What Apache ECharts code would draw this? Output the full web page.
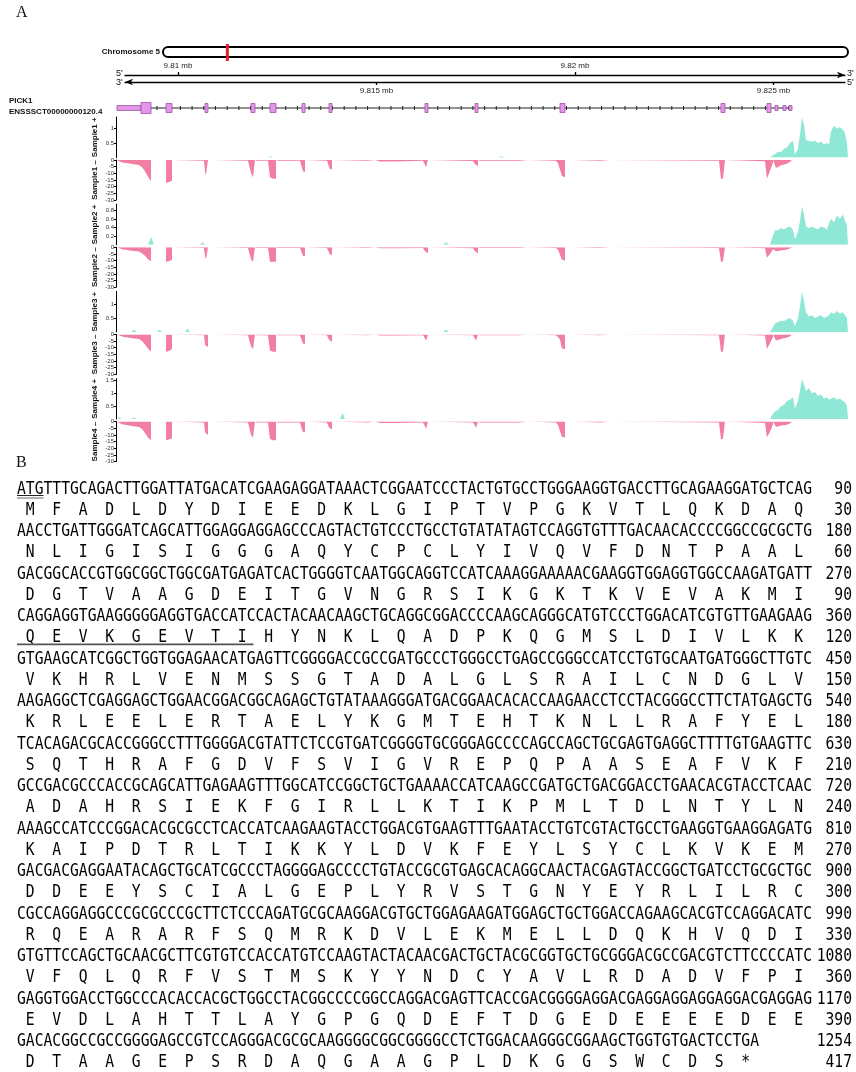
<!DOCTYPE html>
<html><head><meta charset="utf-8">
<script src="https://cdn.jsdelivr.net/npm/echarts@6/dist/echarts.min.js"></script>
<style>html,body{margin:0;padding:0;background:#fff}#c{width:856px;height:1072px}</style>
</head><body><div id="c"></div>
<script>
// ---------------- DATA ----------------
const chrName = 'Chromosome 5';
const chrLengthMb = 104.5;
const locusMb = 9.818;
const geneName = 'PICK1';
const transcriptId = 'ENSSSCT00000000120.4';
const viewKb = [9808.438, 9826.877];
const scaleTopTicksKb = [9810, 9820];
const scaleBottomTicksKb = [9815, 9825];
// [start kb, end kb, kind] kind: 2 = large exon, 1 = exon, 0 = UTR
const exonsKb = [
  [9808.463, 9809.068, 0], [9809.068, 9809.320, 2], [9809.697, 9809.849, 1],
  [9810.680, 9810.755, 1], [9811.839, 9811.939, 1], [9812.317, 9812.468, 1],
  [9813.123, 9813.199, 1], [9813.803, 9813.879, 1], [9816.221, 9816.297, 1],
  [9817.481, 9817.556, 1], [9819.622, 9819.748, 1], [9823.677, 9823.778, 1],
  [9824.836, 9824.937, 1], [9825.037, 9825.113, 0], [9825.239, 9825.315, 0],
  [9825.390, 9825.466, 0]
];
const sampleNames = ['Sample1', 'Sample2', 'Sample3', 'Sample4'];
const plusMax = [1.4, 0.94, 1.45, 1.57];
const plusInterval = [0.5, 0.2, 0.5, 0.5];
const minusTicks = [0, -30, 5];

// minus-strand coverage (positions in kb)
const minusPosKb = [
  9808.463, 9808.463, 9808.589, 9808.740, 9808.891, 9809.017, 9809.093, 9809.168, 9809.244, 9809.320,
  9809.320, 9809.697, 9809.697, 9809.773, 9809.849, 9809.849, 9809.874, 9810.655, 9810.680, 9810.705,
  9810.755, 9810.755, 9810.881, 9810.881, 9811.763, 9811.839, 9811.889, 9811.939, 9811.939, 9811.990,
  9812.267, 9812.317, 9812.393, 9812.468, 9812.468, 9812.519, 9813.073, 9813.123, 9813.148, 9813.199,
  9813.199, 9813.249, 9813.753, 9813.803, 9813.828, 9813.879, 9813.879, 9813.929, 9814.786, 9814.786,
  9814.962, 9814.962, 9815.088, 9815.466, 9816.171, 9816.221, 9816.247, 9816.297, 9816.297, 9816.347,
  9817.430, 9817.481, 9817.506, 9817.556, 9817.556, 9817.607, 9818.614, 9818.614, 9818.816, 9818.816,
  9819.521, 9819.572, 9819.622, 9819.672, 9819.748, 9819.748, 9819.924, 9819.924, 9820.629, 9820.629,
  9820.881, 9820.881, 9823.627, 9823.677, 9823.728, 9823.778, 9823.778, 9823.828, 9824.786, 9824.836,
  9824.937, 9824.987, 9824.987, 9825.037, 9825.063, 9825.189, 9825.315, 9825.415, 9825.466
];
const s1Minus = [
  0, -1.0, -1.8, -2.5, -3.2, -3.8, -5.5, -8.5, -12.5, -16,
  0, 0, -17, -16.5, -15.5, 0, -0.6, -0.6, -9, -11,
  -11.5, 0, 0, -0.6, -0.6, -10, -13, -14, 0, -0.6,
  -0.6, -13, -14, -14, 0, -0.6, -0.6, -6, -8.5, -9,
  0, -0.6, -0.6, -5, -7, -7, 0, -0.6, -0.6, 0,
  0, -0.6, -1.2, -1.2, -0.6, -3.5, -5.5, -5.5, 0, -0.7,
  -0.7, -3, -4.5, -4.5, 0, -0.6, -0.6, 0, 0, -0.6,
  -0.6, -2.5, -4, -12, -13, 0, 0, -0.6, -0.6, 0,
  0, -0.6, -0.6, -14, -14, -14, 0, -0.6, -1, -14,
  -6, -2, 0, 0, -6, -4, -3, -1.5, 0
];
const s2Minus = [
  0, -0.8, -1.5, -2.2, -2.8, -3.2, -4.5, -6.5, -9, -10.5,
  0, 0, -11, -10.5, -9.5, 0, -0.6, -0.6, -7, -9,
  -9, 0, 0, -0.6, -0.6, -9, -11, -12, 0, -0.6,
  -0.6, -11, -11, -11, 0, -0.6, -0.6, -4.5, -6.5, -6.7,
  0, -0.6, -0.6, -4, -5.7, -5.7, 0, -0.6, -0.6, 0,
  0, -0.6, -0.8, -0.8, -0.6, -3, -4.5, -4.5, 0, -0.7,
  -0.7, -3, -4.5, -4.5, 0, -0.6, -0.6, 0, 0, -0.6,
  -0.6, -2, -3.5, -9.5, -10, 0, 0, -0.6, -0.6, 0,
  0, -0.6, -0.6, -11, -11, -11, 0, -0.6, -0.8, -8,
  -4, -1.5, 0, 0, -3, -2.5, -2, -1, 0
];
const s3Minus = [
  0, -1.0, -1.6, -2.3, -3.0, -3.5, -5, -7.5, -10.5, -13,
  0, 0, -13, -12.5, -11, 0, -0.6, -0.6, -8, -9,
  -9.5, 0, 0, -0.6, -0.6, -9, -11, -12, 0, -0.6,
  -0.6, -12, -13, -13, 0, -0.6, -0.6, -5, -7, -7,
  0, -0.6, -0.6, -4, -5.5, -5.5, 0, -0.6, -0.6, 0,
  0, -0.6, -0.8, -0.8, -0.6, -3, -5, -5, 0, -0.7,
  -0.7, -3, -5, -5, 0, -0.6, -0.6, 0, 0, -0.6,
  -0.6, -2, -4, -10.5, -11, 0, 0, -0.6, -0.6, 0,
  0, -0.6, -0.6, -13, -13, -13, 0, -0.6, -0.8, -11,
  -5, -2, 0, 0, -4.5, -3.5, -2.5, -1.5, 0
];
const s4Minus = [
  0, -1.2, -2.0, -2.8, -3.4, -4.0, -5.5, -8.5, -12, -14,
  0, 0, -14, -13.5, -12.5, 0, -0.6, -0.6, -8, -9.5,
  -10, 0, 0, -0.6, -0.6, -10, -12, -13, 0, -0.6,
  -0.6, -13, -14, -14, 0, -0.6, -0.6, -6, -8, -8,
  0, -0.6, -0.6, -4.5, -6, -6, 0, -0.6, -0.6, 0,
  0, -0.6, -1.0, -1.0, -0.6, -3.5, -5.5, -5.5, 0, -0.7,
  -0.7, -3, -5, -5, 0, -0.6, -0.6, 0, 0, -0.6,
  -0.6, -2.5, -4, -11.5, -12, 0, 0, -0.6, -0.6, 0,
  0, -0.6, -0.6, -13, -13, -13, 0, -0.6, -1, -12,
  -6, -2, 0, 0, -4, -3, -2.5, -1.5, 0
];

// plus-strand coverage (positions in kb)
const plusPosKb = [
  9808.488, 9808.526, 9808.564, 9808.816, 9808.891, 9808.967, 9809.244, 9809.320, 9809.395,
  9809.471, 9809.534, 9809.597, 9810.176, 9810.239, 9810.302, 9810.554, 9810.617, 9810.680,
  9812.267, 9812.330, 9812.393, 9814.080, 9814.143, 9814.206, 9816.675, 9816.750, 9816.826,
  9818.060, 9818.148, 9818.236,
  9824.912, 9824.962, 9825.037, 9825.113, 9825.189, 9825.264, 9825.340, 9825.415, 9825.491,
  9825.541, 9825.617, 9825.667, 9825.718, 9825.768, 9825.818, 9825.894, 9825.969, 9826.045,
  9826.121, 9826.196, 9826.272, 9826.347, 9826.398, 9826.448, 9826.524, 9826.599, 9826.675,
  9826.750, 9826.801, 9826.851, 9826.876
];
const s1Plus = [
  0, 0.06, 0, 0, 0, 0, 0, 0, 0, 0, 0, 0, 0, 0, 0, 0, 0, 0,
  0, 0.05, 0, 0, 0, 0, 0, 0, 0, 0, 0.04, 0,
  0, 0.05, 0.12, 0.2, 0.18, 0.3, 0.35, 0.5, 0.58, 0.1, 0.3, 0.8, 1.38, 1.15, 0.6, 0.58,
  0.55, 0.58, 0.5, 0.55, 0.45, 0.5, 0.45, 0.9, 1.1, 1.0, 1.05, 0.95, 0.85, 0.5, 0
];
const s2Plus = [
  0, 0.04, 0, 0, 0, 0, 0, 0.18, 0, 0, 0, 0, 0, 0, 0, 0, 0.06, 0,
  0, 0, 0, 0, 0, 0, 0, 0.06, 0, 0, 0, 0,
  0, 0.15, 0.33, 0.34, 0.38, 0.36, 0.4, 0.42, 0.35, 0.12, 0.3, 0.55, 0.89, 0.7, 0.42, 0.38,
  0.42, 0.38, 0.36, 0.42, 0.4, 0.36, 0.5, 0.6, 0.52, 0.68, 0.6, 0.7, 0.55, 0.45, 0
];
const s3Plus = [
  0, 0, 0, 0, 0.08, 0, 0, 0, 0, 0, 0.08, 0, 0, 0.12, 0, 0, 0, 0,
  0, 0, 0, 0, 0, 0, 0, 0.08, 0, 0, 0, 0,
  0, 0.1, 0.3, 0.35, 0.4, 0.38, 0.45, 0.5, 0.4, 0.2, 0.5, 0.9, 1.45, 1.1, 0.7, 0.55,
  0.6, 0.5, 0.55, 0.6, 0.5, 0.55, 0.6, 0.7, 0.65, 0.75, 0.65, 0.7, 0.6, 0.5, 0
];
const s4Plus = [
  0, 0.08, 0, 0, 0.06, 0, 0, 0, 0, 0, 0, 0, 0, 0, 0, 0, 0, 0,
  0, 0, 0, 0, 0.25, 0, 0, 0, 0, 0, 0, 0,
  0, 0.15, 0.3, 0.35, 0.5, 0.55, 0.7, 0.75, 0.85, 0.4, 0.7, 1.1, 1.55, 1.35, 1.1, 1.2,
  1.0, 1.05, 0.9, 0.95, 0.8, 0.85, 0.75, 0.8, 0.85, 0.75, 0.8, 0.7, 0.65, 0.5, 0
];
const plusValues = [s1Plus, s2Plus, s3Plus, s4Plus];
const minusValues = [s1Minus, s2Minus, s3Minus, s4Minus];

// Panel B sequence
const dnaLines = [
  'ATGTTTGCAGACTTGGATTATGACATCGAAGAGGATAAACTCGGAATCCCTACTGTGCCTGGGAAGGTGACCTTGCAGAAGGATGCTCAG',
  'AACCTGATTGGGATCAGCATTGGAGGAGGAGCCCAGTACTGTCCCTGCCTGTATATAGTCCAGGTGTTTGACAACACCCCGGCCGCGCTG',
  'GACGGCACCGTGGCGGCTGGCGATGAGATCACTGGGGTCAATGGCAGGTCCATCAAAGGAAAAACGAAGGTGGAGGTGGCCAAGATGATT',
  'CAGGAGGTGAAGGGGGAGGTGACCATCCACTACAACAAGCTGCAGGCGGACCCCAAGCAGGGCATGTCCCTGGACATCGTGTTGAAGAAG',
  'GTGAAGCATCGGCTGGTGGAGAACATGAGTTCGGGGACCGCCGATGCCCTGGGCCTGAGCCGGGCCATCCTGTGCAATGATGGGCTTGTC',
  'AAGAGGCTCGAGGAGCTGGAACGGACGGCAGAGCTGTATAAAGGGATGACGGAACACACCAAGAACCTCCTACGGGCCTTCTATGAGCTG',
  'TCACAGACGCACCGGGCCTTTGGGGACGTATTCTCCGTGATCGGGGTGCGGGAGCCCCAGCCAGCTGCGAGTGAGGCTTTTGTGAAGTTC',
  'GCCGACGCCCACCGCAGCATTGAGAAGTTTGGCATCCGGCTGCTGAAAACCATCAAGCCGATGCTGACGGACCTGAACACGTACCTCAAC',
  'AAAGCCATCCCGGACACGCGCCTCACCATCAAGAAGTACCTGGACGTGAAGTTTGAATACCTGTCGTACTGCCTGAAGGTGAAGGAGATG',
  'GACGACGAGGAATACAGCTGCATCGCCCTAGGGGAGCCCCTGTACCGCGTGAGCACAGGCAACTACGAGTACCGGCTGATCCTGCGCTGC',
  'CGCCAGGAGGCCCGCGCCCGCTTCTCCCAGATGCGCAAGGACGTGCTGGAGAAGATGGAGCTGCTGGACCAGAAGCACGTCCAGGACATC',
  'GTGTTCCAGCTGCAACGCTTCGTGTCCACCATGTCCAAGTACTACAACGACTGCTACGCGGTGCTGCGGGACGCCGACGTCTTCCCCATC',
  'GAGGTGGACCTGGCCCACACCACGCTGGCCTACGGCCCCGGCCAGGACGAGTTCACCGACGGGGAGGACGAGGAGGAGGAGGACGAGGAG',
  'GACACGGCCGCCGGGGAGCCGTCCAGGGACGCGCAAGGGGCGGCGGGGCCTCTGGACAAGGGCGGAAGCTGGTGTGACTCCTGA'
];
const aaLines = [
  'M F A D L D Y D I E E D K L G I P T V P G K V T L Q K D A Q',
  'N L I G I S I G G G A Q Y C P C L Y I V Q V F D N T P A A L',
  'D G T V A A G D E I T G V N G R S I K G K T K V E V A K M I',
  'Q E V K G E V T I H Y N K L Q A D P K Q G M S L D I V L K K',
  'V K H R L V E N M S S G T A D A L G L S R A I L C N D G L V',
  'K R L E E L E R T A E L Y K G M T E H T K N L L R A F Y E L',
  'S Q T H R A F G D V F S V I G V R E P Q P A A S E A F V K F',
  'A D A H R S I E K F G I R L L K T I K P M L T D L N T Y L N',
  'K A I P D T R L T I K K Y L D V K F E Y L S Y C L K V K E M',
  'D D E E Y S C I A L G E P L Y R V S T G N Y E Y R L I L R C',
  'R Q E A R A R F S Q M R K D V L E K M E L L D Q K H V Q D I',
  'V F Q L Q R F V S T M S K Y Y N D C Y A V L R D A D V F P I',
  'E V D L A H T T L A Y G P G Q D E F T D G E D E E E E D E E',
  'D T A A G E P S R D A Q G A A G P L D K G G S W C D S *'
];
const ntEnds = [90, 180, 270, 360, 450, 540, 630, 720, 810, 900, 990, 1080, 1170, 1254];
const aaEnds = [30, 60, 90, 120, 150, 180, 210, 240, 270, 300, 330, 360, 390, 417];

// ---------------- LAYOUT / STYLE ----------------
const PINK = '#f27ea2', TEAL = '#8fe7d6';
const trackLeft = 116, trackRight = 8;
const scaleLeft = 125, scaleRight = 11;
const pxPerKb = (856 - trackLeft - trackRight) / (viewKb[1] - viewKb[0]);
const scaleMin = viewKb[0] + (scaleLeft - trackLeft) / pxPerKb;
const scaleMax = viewKb[1] - (scaleRight - trackRight) / pxPerKb;

const grids = [
  {left: 163, right: 8, top: 47, height: 10},
  {left: scaleLeft, right: scaleRight, top: 75, height: 7},
  {left: trackLeft, right: trackRight, top: 103, height: 10}
];
const scaleAxis = (pos, ticks, symbol, margin) => ({
  gridIndex: 1, type: 'value', min: scaleMin, max: scaleMax, position: pos,
  axisLine: {show: true, onZero: false, symbol: symbol, symbolSize: [5, 8], lineStyle: {color: '#000', width: 1.3}},
  axisTick: {show: true, customValues: ticks, length: 3, inside: false, lineStyle: {color: '#000', width: 1.3}},
  axisLabel: {show: true, customValues: ticks, formatter: v => (v / 1000) + ' mb', fontSize: 8, color: '#222', margin: margin, fontFamily: 'Liberation Sans'},
  splitLine: {show: false}
});
const xAxes = [
  {gridIndex: 0, type: 'value', min: 0, max: chrLengthMb, show: false},
  scaleAxis('top', scaleTopTicksKb, ['none', 'arrow'], 5),
  scaleAxis('bottom', scaleBottomTicksKb, ['arrow', 'none'], 5),
  {gridIndex: 2, type: 'value', min: viewKb[0], max: viewKb[1], show: false}
];
const yAxes = [
  {gridIndex: 0, type: 'value', min: 0, max: 1, show: false},
  {gridIndex: 1, type: 'value', min: 0, max: 1, show: false},
  {gridIndex: 2, type: 'value', min: 0, max: 1, show: false}
];
const series = [];

const axisCommon = {
  nameLocation: 'middle', nameGap: 17, nameMoveOverlap: false,
  nameTextStyle: {fontSize: 8, fontWeight: 'bold', color: '#111', fontFamily: 'Liberation Sans'},
  axisLine: {show: true, onZero: false, lineStyle: {color: '#000', width: 1}},
  axisTick: {show: true, length: 2, lineStyle: {color: '#000', width: 1}},
  axisLabel: {fontSize: 6, lineHeight: 5, color: '#333', margin: 2, fontFamily: 'Liberation Sans', hideOverlap: false},
  splitLine: {show: false}
};

sampleNames.forEach((name, k) => {
  const P = 117 + 87.2 * k;
  const gp = grids.length;
  grids.push({left: trackLeft, right: trackRight, top: P, height: 40.5});
  xAxes.push({gridIndex: gp, type: 'value', min: viewKb[0], max: viewKb[1], show: false});
  yAxes.push(Object.assign({}, axisCommon, {
    gridIndex: gp, type: 'value', name: name + ' +', min: 0, max: plusMax[k], interval: plusInterval[k],
    axisLabel: Object.assign({}, axisCommon.axisLabel, {showMinLabel: false, showMaxLabel: false})
  }));
  series.push({
    type: 'line', xAxisIndex: gp + 1, yAxisIndex: gp, symbol: 'none', silent: true,
    data: plusPosKb.map((x, i) => [x, plusValues[k][i]]),
    lineStyle: {width: 0, opacity: 0}, areaStyle: {color: TEAL, opacity: 1}
  });
  const gm = grids.length;
  grids.push({left: trackLeft, right: trackRight, top: P + 43, height: 40});
  xAxes.push({gridIndex: gm, type: 'value', min: viewKb[0], max: viewKb[1], show: false});
  yAxes.push(Object.assign({}, axisCommon, {
    gridIndex: gm, type: 'value', name: name + ' \u2013', min: minusTicks[1], max: minusTicks[0], interval: minusTicks[2],
    axisLabel: Object.assign({}, axisCommon.axisLabel, {showMinLabel: true, showMaxLabel: true})
  }));
  series.push({
    type: 'line', xAxisIndex: gm + 1, yAxisIndex: gm, symbol: 'none', silent: true,
    data: minusPosKb.map((x, i) => [x, minusValues[k][i]]),
    lineStyle: {width: 0, opacity: 0}, areaStyle: {color: PINK, opacity: 1}
  });
});
grids.forEach(g => { g.containLabel = false; g.outerBoundsMode = 'none'; });

series.push({
  type: 'custom', xAxisIndex: 0, yAxisIndex: 0, silent: true, clip: false,
  data: [[0, chrLengthMb]],
  renderItem: (params, api) => {
    const a = api.coord([api.value(0), 1]);
    const b = api.coord([api.value(1), 0]);
    return {type: 'rect', shape: {x: a[0], y: a[1], width: b[0] - a[0], height: b[1] - a[1], r: 5},
      style: {fill: '#fff', stroke: '#000', lineWidth: 2}};
  }
});
series.push({
  type: 'custom', xAxisIndex: 0, yAxisIndex: 0, silent: true, clip: false,
  data: [[locusMb]],
  renderItem: (params, api) => {
    const a = api.coord([api.value(0), 1]);
    const b = api.coord([api.value(0), 0]);
    return {type: 'rect', shape: {x: a[0] - 1.5, y: a[1] - 3, width: 3, height: b[1] - a[1] + 7},
      style: {fill: '#e3212b'}};
  }
});
series.push({
  type: 'custom', xAxisIndex: 3, yAxisIndex: 2, silent: true, clip: false,
  data: [[exonsKb[0][0], exonsKb[exonsKb.length - 1][1]]],
  renderItem: (params, api) => {
    const a = api.coord([api.value(0), 0.5]);
    const b = api.coord([api.value(1), 0.5]);
    const children = [{type: 'line', shape: {x1: a[0], y1: a[1], x2: b[0], y2: b[1]}, style: {stroke: '#222', lineWidth: 1}}];
    for (let x = a[0] + 40; x < b[0] - 2; x += 11.7) {
      children.push({type: 'line', shape: {x1: x, y1: a[1] - 2, x2: x, y2: a[1] + 2}, style: {stroke: '#222', lineWidth: 1}});
    }
    return {type: 'group', children};
  }
});
series.push({
  type: 'custom', xAxisIndex: 3, yAxisIndex: 2, silent: true, clip: false,
  data: exonsKb,
  renderItem: (params, api) => {
    const kind = api.value(2);
    const h = kind === 2 ? 11 : (kind === 1 ? 9 : 5);
    const a = api.coord([api.value(0), 0.5]);
    const b = api.coord([api.value(1), 0.5]);
    return {type: 'rect', shape: {x: a[0], y: a[1] - h / 2, width: Math.max(b[0] - a[0], 2.5), height: h},
      style: {fill: '#e496e8', stroke: '#9e52a4', lineWidth: 0.8}};
  }
});

const graphic = [];
const sans = 'Liberation Sans';
graphic.push({type: 'text', x: 16, y: 13, style: {text: 'A', font: '16px "Liberation Serif"', fill: '#111', verticalAlign: 'middle'}});
graphic.push({type: 'text', x: 16, y: 463, style: {text: 'B', font: '16px "Liberation Serif"', fill: '#111', verticalAlign: 'middle'}});
graphic.push({type: 'text', x: 160, y: 52, style: {text: chrName, font: 'bold 8px "' + sans + '"', fill: '#111', align: 'right', verticalAlign: 'middle'}});
graphic.push({type: 'text', x: 9, y: 101, style: {text: geneName, font: 'bold 8px "' + sans + '"', fill: '#111', verticalAlign: 'middle'}});
graphic.push({type: 'text', x: 9, y: 112, style: {text: transcriptId, font: 'bold 8px "' + sans + '"', fill: '#111', verticalAlign: 'middle'}});
[["5'", 116, 74], ["3'", 116, 83], ["3'", 847, 74], ["5'", 847, 83]].forEach(t => {
  graphic.push({type: 'text', x: t[1], y: t[2], style: {text: t[0], font: '9px "' + sans + '"', fill: '#111', verticalAlign: 'middle'}});
});

const seqX = 17, charW = 8.833, seqFont = 17.5, dnaY0 = 489, rowStep = 42.5, aaOff = 21.3, numX = 852;
const sx = charW / (0.60205 * seqFont);
const monoFont = seqFont + 'px "DejaVu Sans Mono"';
dnaLines.forEach((s, i) => {
  const y = dnaY0 + rowStep * i;
  graphic.push({type: 'text', x: seqX, y: y, scaleX: sx, style: {text: s, font: monoFont, fill: '#000', verticalAlign: 'middle'}});
  graphic.push({type: 'text', x: numX, y: y, scaleX: sx, style: {text: String(ntEnds[i]), font: monoFont, fill: '#000', align: 'right', verticalAlign: 'middle'}});
  const aaStr = aaLines[i].split(' ').map(a => ' ' + a + ' ').join('');
  graphic.push({type: 'text', x: seqX, y: y + aaOff, scaleX: sx, style: {text: aaStr, font: monoFont, fill: '#000', verticalAlign: 'middle'}});
  graphic.push({type: 'text', x: numX, y: y + aaOff, scaleX: sx, style: {text: String(aaEnds[i]), font: monoFont, fill: '#000', align: 'right', verticalAlign: 'middle'}});
});
graphic.push({type: 'line', shape: {x1: seqX, y1: dnaY0 + 6.5, x2: seqX + 3 * charW, y2: dnaY0 + 6.5}, style: {stroke: '#222', lineWidth: 1}});
graphic.push({type: 'line', shape: {x1: seqX, y1: dnaY0 + 9, x2: seqX + 3 * charW, y2: dnaY0 + 9}, style: {stroke: '#666', lineWidth: 1}});
const motifY = dnaY0 + rowStep * 3 + aaOff + 6.5;
graphic.push({type: 'line', shape: {x1: seqX, y1: motifY, x2: seqX + 27 * charW - 2, y2: motifY}, style: {stroke: '#555', lineWidth: 1.8}});

const chart = echarts.init(document.getElementById('c'), null, {renderer: 'canvas'});
chart.setOption({
  animation: false,
  backgroundColor: '#fff',
  grid: grids, xAxis: xAxes, yAxis: yAxes, series: series, graphic: graphic
});
</script>
</body></html>
